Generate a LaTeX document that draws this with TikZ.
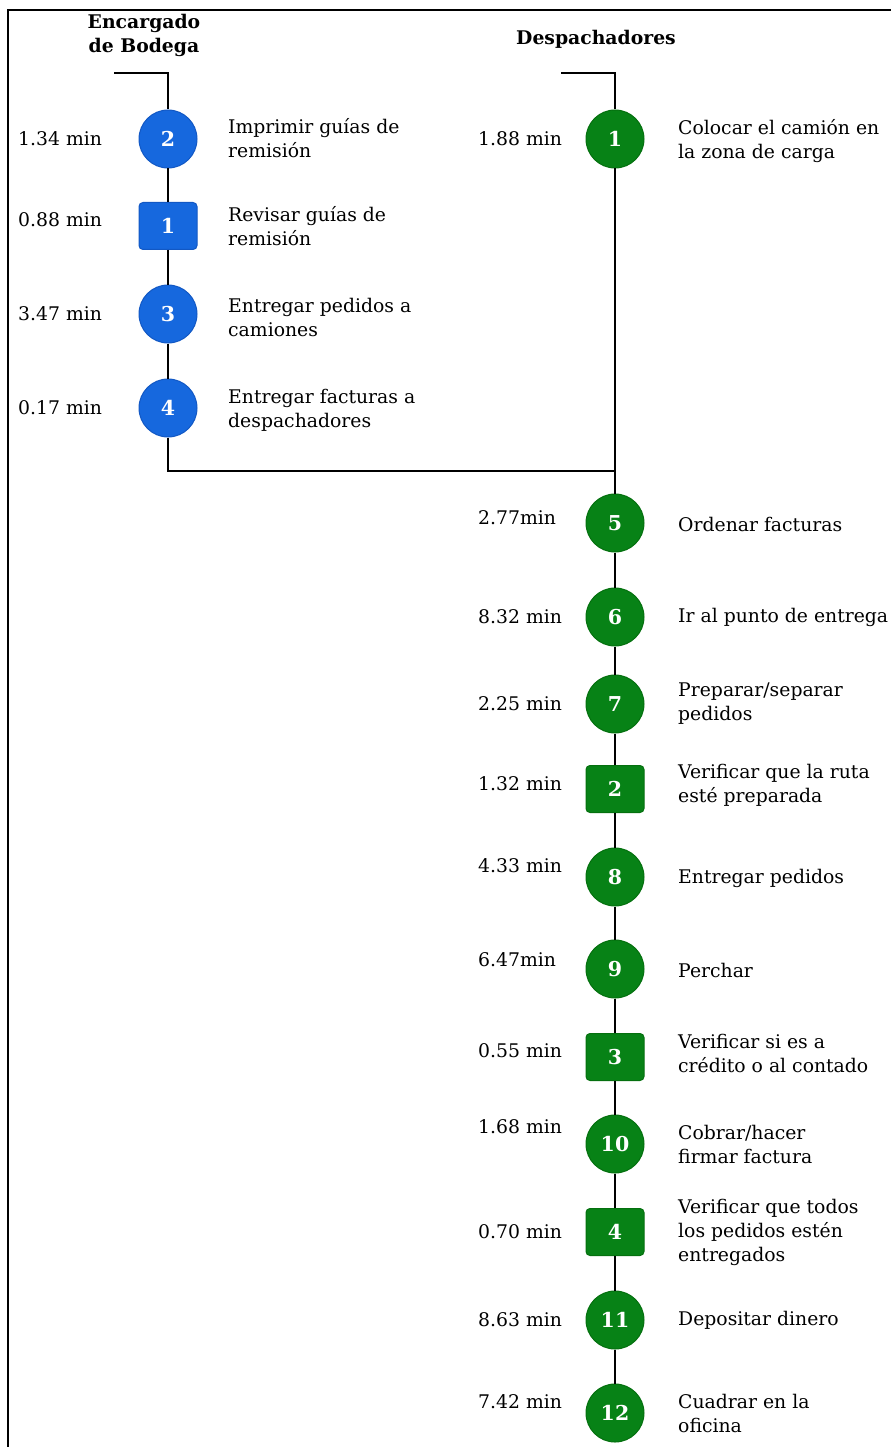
\documentclass[tikz,border=0pt]{standalone}
\usepackage{fontspec}
\setmainfont{DejaVu Serif}
\definecolor{bfill}{HTML}{1668DE}
\definecolor{bedge}{HTML}{1258C4}
\definecolor{gfill}{HTML}{078216}
\definecolor{gedge}{HTML}{05700F}
\tikzset{
  conn/.style={line width=2.5pt, black},
  frameline/.style={line width=2.5pt, black},
  stepnum/.style={text=white, font=\fontsize{20.5}{22}\selectfont\bfseries, inner sep=0pt, line width=1pt},
  bcirc/.style={stepnum, circle, fill=bfill, draw=bedge, minimum size=58pt},
  bsq/.style={stepnum, rectangle, rounded corners=4pt, fill=bfill, draw=bedge, minimum width=58pt, minimum height=47pt},
  gcirc/.style={stepnum, circle, fill=gfill, draw=gedge, minimum size=58pt},
  gsq/.style={stepnum, rectangle, rounded corners=4pt, fill=gfill, draw=gedge, minimum width=58pt, minimum height=47pt},
  desc/.style={anchor=west, align=left, inner sep=0pt, font=\fontsize{18.8}{24}\selectfont},
  tlabel/.style={anchor=west, inner sep=0pt, font=\fontsize{18.8}{24}\selectfont},
  head/.style={align=center, inner sep=0pt, font=\fontsize{18.8}{24}\selectfont\bfseries},
}
\begin{document}
\begin{tikzpicture}[x=1pt, y=-1pt]
\useasboundingbox (0,0) rectangle (891,1447);

% outer frame (left and top edges)
\coordinate (fbl) at (8,1447);
\coordinate (ftl) at (8,10);
\coordinate (ftr) at (891,10);
\draw[frameline] (fbl) -- (ftl) -- (ftr);

% column headings
\node[head] (hl) at (144,35) {Encargado\\de Bodega};
\node[head] (hr) at (596,39) {Despachadores};

% start markers
\coordinate (ls) at (114,73);
\coordinate (lt) at (168,73);
\coordinate (rs) at (561,73);
\coordinate (rt) at (615,73);

% Encargado de Bodega
\node[bcirc] (b2) at (168,139) {2};
\node[bsq]   (bq1) at (168,226) {1};
\node[bcirc] (b3) at (168,314) {3};
\node[bcirc] (b4) at (168,408) {4};

\node[tlabel] (tb2) at (18,139) {1.34 min};
\node[tlabel] (tbq1) at (18,220) {0.88 min};
\node[tlabel] (tb3) at (18,314) {3.47 min};
\node[tlabel] (tb4) at (18,408) {0.17 min};

\node[desc] (db2) at (228,138) {Imprimir guías de\\remisión};
\node[desc] (dbq1) at (228,226) {Revisar guías de\\remisión};
\node[desc] (db3) at (228,317) {Entregar pedidos a\\camiones};
\node[desc] (db4) at (228,410) {Entregar facturas a\\despachadores};

% Despachadores
\node[gcirc] (g1) at (615,139) {1};
\node[gcirc] (g5) at (615,523) {5};
\node[gcirc] (g6) at (615,617) {6};
\node[gcirc] (g7) at (615,704) {7};
\node[gsq]   (gq2) at (615,789) {2};
\node[gcirc] (g8) at (615,877) {8};
\node[gcirc] (g9) at (615,969) {9};
\node[gsq]   (gq3) at (615,1057) {3};
\node[gcirc] (g10) at (615,1144) {10};
\node[gsq]   (gq4) at (615,1232) {4};
\node[gcirc] (g11) at (615,1320) {11};
\node[gcirc] (g12) at (615,1413) {12};

\node[tlabel] (tg1) at (478,139) {1.88 min};
\node[tlabel] (tg5) at (478,518) {2.77min};
\node[tlabel] (tg6) at (478,617) {8.32 min};
\node[tlabel] (tg7) at (478,704) {2.25 min};
\node[tlabel] (tgq2) at (478,784) {1.32 min};
\node[tlabel] (tg8) at (478,866) {4.33 min};
\node[tlabel] (tg9) at (478,960) {6.47min};
\node[tlabel] (tgq3) at (478,1051) {0.55 min};
\node[tlabel] (tg10) at (478,1127) {1.68 min};
\node[tlabel] (tgq4) at (478,1232) {0.70 min};
\node[tlabel] (tg11) at (478,1320) {8.63 min};
\node[tlabel] (tg12) at (478,1402) {7.42 min};

\node[desc] (dg1) at (678,141) {Colocar el camión en\\la zona de carga};
\node[desc] (dg5) at (678,524) {Ordenar facturas};
\node[desc] (dg6) at (678,617) {Ir al punto de entrega};
\node[desc] (dg7) at (678,704) {Preparar/separar\\pedidos};
\node[desc] (dgq2) at (678,785) {Verificar que la ruta\\esté preparada};
\node[desc] (dg8) at (678,878) {Entregar pedidos};
\node[desc] (dg9) at (678,970) {Perchar};
\node[desc] (dgq3) at (678,1053) {Verificar si es a\\crédito o al contado};
\node[desc] (dg10) at (678,1144) {Cobrar/hacer\\firmar factura};
\node[desc] (dgq4) at (678,1232) {Verificar que todos\\los pedidos estén\\entregados};
\node[desc] (dg11) at (678,1320) {Depositar dinero};
\node[desc] (dg12) at (678,1413) {Cuadrar en la\\oficina};

% junction where the two lanes meet
\coordinate (lj) at (168,471);
\coordinate (rj) at (615,471);

% connectors
\draw[conn] (ls) -- (lt) -- (b2);
\draw[conn] (b2) -- (bq1);
\draw[conn] (bq1) -- (b3);
\draw[conn] (b3) -- (b4);
\draw[conn] (b4) -- (lj) -- (rj);

\draw[conn] (rs) -- (rt) -- (g1);
\draw[conn] (g1) -- (rj) -- (g5);
\draw[conn] (g5) -- (g6);
\draw[conn] (g6) -- (g7);
\draw[conn] (g7) -- (gq2);
\draw[conn] (gq2) -- (g8);
\draw[conn] (g8) -- (g9);
\draw[conn] (g9) -- (gq3);
\draw[conn] (gq3) -- (g10);
\draw[conn] (g10) -- (gq4);
\draw[conn] (gq4) -- (g11);
\draw[conn] (g11) -- (g12);
\end{tikzpicture}
\end{document}
